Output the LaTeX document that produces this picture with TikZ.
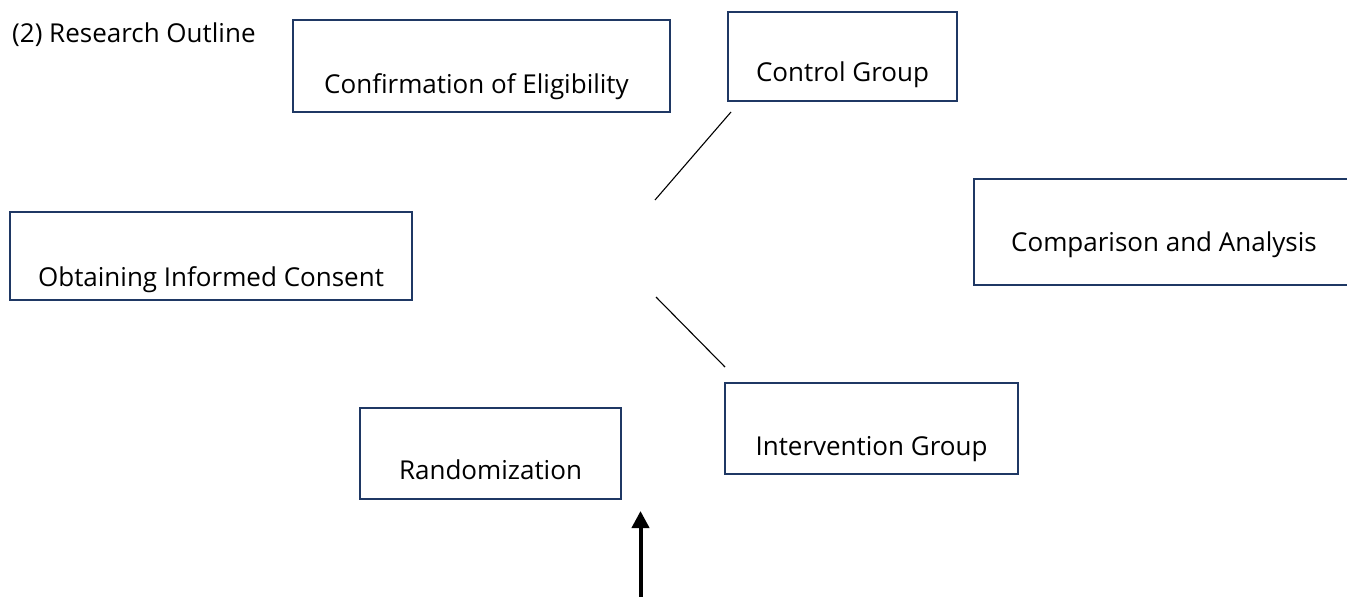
\documentclass[tikz,border=0pt]{standalone}
\usepackage{fontspec}
\setmainfont{Open Sans}
\usepackage{tikz}
\usetikzlibrary{arrows, arrows.meta, positioning, calc}
\usepackage{xcolor}
\definecolor{boxnavy}{HTML}{1F3864}

\tikzset{
  box/.style={draw=boxnavy, line width=1.8pt, inner sep=0pt},
  lbl/.style={inner sep=0pt, text height=18.6pt, text depth=0pt, font=\fontsize{26}{31}\selectfont},
}

\begin{document}
\begin{tikzpicture}[x=1pt, y=-1pt]
      \useasboundingbox (0, 0) rectangle (1347, 597);

      \node[lbl, anchor=west] (title) at (12, 33) {(2) Research Outline};

      \node[box, minimum width=377, minimum height=92, label={[lbl, xshift=-5pt, yshift=-18pt]center:Confirmation of Eligibility}] (elig) at (481.5, 66) {};
      \node[box, minimum width=229, minimum height=89, label={[lbl, yshift=-16pt]center:Control Group}] (ctrl) at (842.5, 56.5) {};
      \node[box, minimum width=380, minimum height=106, label={[lbl, yshift=-10pt]center:Comparison and Analysis}] (comp) at (1164, 232) {};
      \node[box, minimum width=402, minimum height=88, label={[lbl, yshift=-21pt]center:Obtaining Informed Consent}] (cons) at (211, 256) {};
      \node[box, minimum width=261, minimum height=91, label={[lbl, yshift=-16.5pt]center:Randomization}] (rand) at (490.5, 453.5) {};
      \node[box, minimum width=293, minimum height=91, label={[lbl, yshift=-17.5pt]center:Intervention Group}] (intv) at (871.5, 428.5) {};

      \coordinate (upfrom) at (655, 200);
      \coordinate (upto) at (731, 112);
      \coordinate (downfrom) at (656, 297);
      \coordinate (downto) at (725, 367);
      \draw[line width=1.1pt] (upfrom) -- (upto);
      \draw[line width=1.1pt] (downfrom) -- (downto);

      \coordinate (arrowfoot) at (640.5, 600);
      \coordinate (arrowtip) at (640.5, 511);
      \draw[line width=4pt, -{Triangle[width=17pt, length=17pt]}] (arrowfoot) -- (arrowtip);

    \end{tikzpicture}
\end{document}
